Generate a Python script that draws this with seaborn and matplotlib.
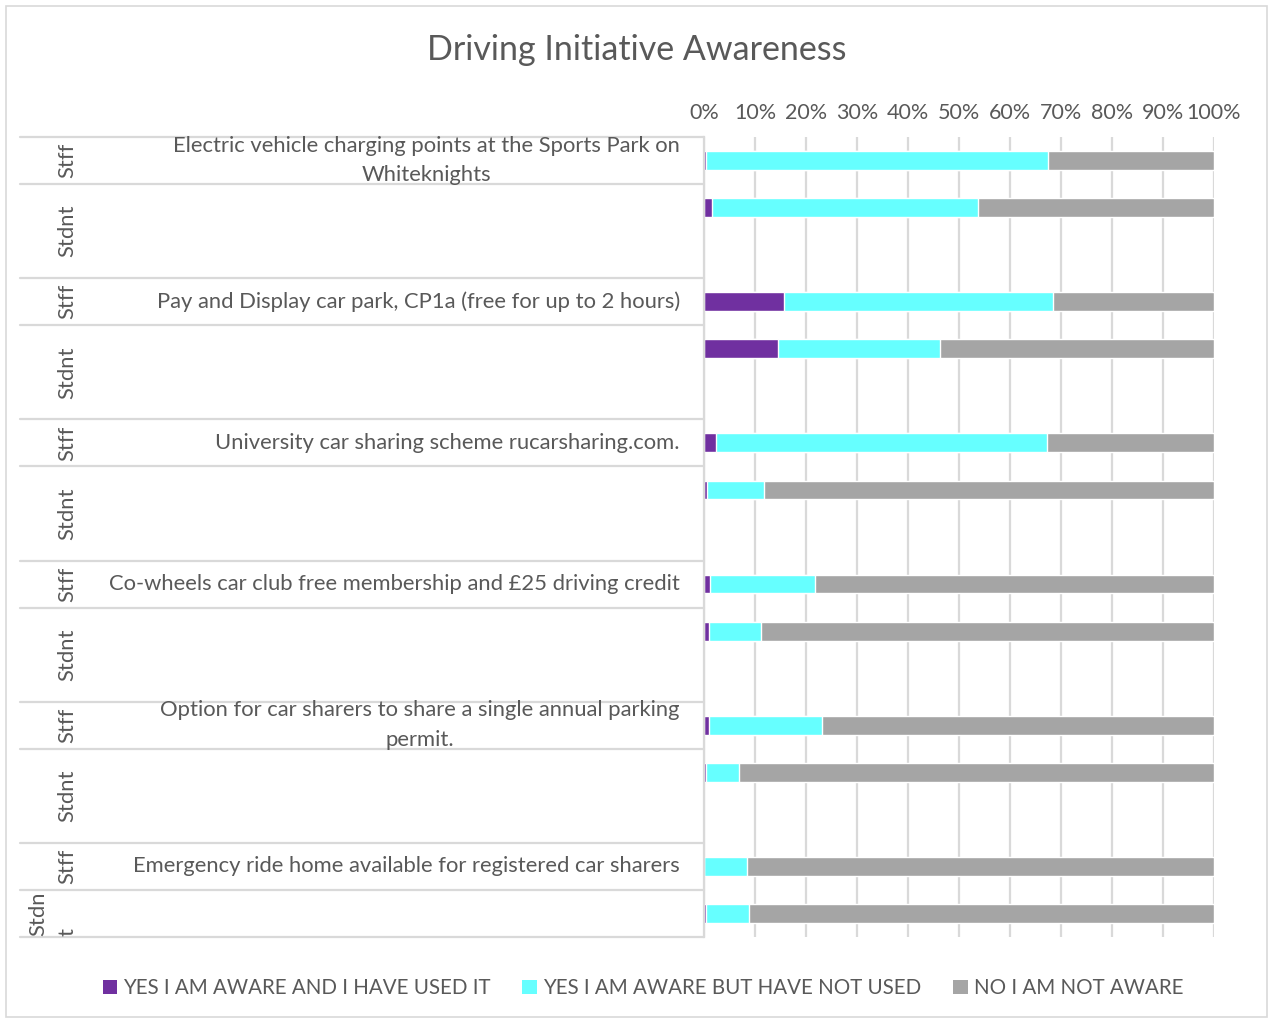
import matplotlib
matplotlib.use("Agg")
import matplotlib.pyplot as plt
from matplotlib.patches import Rectangle, Patch
import seaborn as sns
import pandas as pd

# Initiatives (outer category) and respondent groups (inner category)
initiatives = [
    "Electric vehicle charging points at the Sports Park on\nWhiteknights",
    "Pay and Display car park, CP1a (free for up to 2 hours)",
    "University car sharing scheme rucarsharing.com.",
    "Co-wheels car club free membership and £25 driving credit",
    "Option for car sharers to share a single annual parking\npermit.",
    "Emergency ride home available for registered car sharers",
]
groups = ["Stff", "Stdnt"]

# Percentages, rows ordered initiative by initiative: Stff then Stdnt
used = [0.3, 1.5, 15.6, 14.5, 2.3, 0.6, 1.1, 1.0, 0.9, 0.35, 0.0, 0.3]
aware_not_used = [67.1, 52.3, 52.9, 31.7, 64.9, 11.2, 20.6, 10.2, 22.3, 6.55, 8.5, 8.6]
not_aware = [32.6, 46.2, 31.5, 53.8, 32.8, 88.2, 78.3, 88.8, 76.8, 93.1, 91.5, 91.1]

series_names = ["YES I AM AWARE AND I HAVE USED IT",
                "YES I AM AWARE BUT HAVE NOT USED",
                "NO I AM NOT AWARE"]
series_colors = ["#7030A0", "#66FFFF", "#A5A5A5"]
text_color = "#595959"
line_color = "#D9D9D9"

FONT = ["Lato", "DejaVu Sans"]
LABEL_SIZE = 15.8

rows = []
k = 0
for i, name in enumerate(initiatives):
    for g in groups:
        rows.append({"row": f"{i}|{g}", "initiative": name, "group": g,
                     "used": used[k], "aware": aware_not_used[k], "not": not_aware[k]})
        k += 1
df = pd.DataFrame(rows)
df["c1"] = df["used"]
df["c2"] = df["used"] + df["aware"]
df["c3"] = df["used"] + df["aware"] + df["not"]

# Category order, with an empty slot after each Stdnt row except the last
order = []
for i in range(len(initiatives)):
    order += [f"{i}|Stff", f"{i}|Stdnt"]
    if i < len(initiatives) - 1:
        order.append(" " * (i + 1))

sns.set_theme(style="white")
plt.rcParams["font.family"] = FONT

W, H = 1273, 1023
fig = plt.figure(figsize=(W / 100, H / 100), dpi=100)
fig.patches.append(Rectangle((6 / W, 6 / H), 1 - 12 / W, 1 - 12 / H,
                             transform=fig.transFigure, fill=False,
                             edgecolor=line_color, lw=1.2))

x0, x1, y0, y1 = 704, 1214, 137, 937
ax = fig.add_axes([x0 / W, 1 - y1 / H, (x1 - x0) / W, (y1 - y0) / H])

for col, color in zip(["c3", "c2", "c1"], series_colors[::-1]):
    sns.barplot(data=df, x=col, y="row", order=order, orient="h",
                color=color, saturation=1, width=0.4, errorbar=None,
                ax=ax, zorder=2)

ax.set_xlim(0, 100)
ax.set_ylim(len(order) - 0.5, -0.5)
ax.set_xlabel("")
ax.set_ylabel("")
ax.set_yticks([])
ax.xaxis.tick_top()
ticks = list(range(0, 101, 10))
ax.set_xticks(ticks)
ax.set_xticklabels([f"{t}%" for t in ticks], color=text_color, fontsize=15.5)
ax.tick_params(axis="x", length=0, pad=10)
ax.grid(axis="x", color=line_color, lw=1.6, zorder=0)
ax.set_axisbelow(True)
for s in ["top", "right", "bottom"]:
    ax.spines[s].set_visible(False)
ax.spines["left"].set_color(line_color)
ax.spines["left"].set_linewidth(1.6)

# Two-level category labels on the left
tr = ax.get_yaxis_transform()
px = lambda p: (p - x0) / (x1 - x0)
pos = {name: idx for idx, name in enumerate(order)}
bounds = [-0.5]
for i in range(len(initiatives)):
    s, d = pos[f"{i}|Stff"], pos[f"{i}|Stdnt"]
    bounds += [s + 0.5, (d + 1.5) if i < len(initiatives) - 1 else d + 0.5]
for b in bounds:
    ax.plot([px(20), 0], [b, b], transform=tr, color=line_color, lw=1.6,
            clip_on=False, zorder=1)

for i, name in enumerate(initiatives):
    s, d = pos[f"{i}|Stff"], pos[f"{i}|Stdnt"]
    ax.text(px(680), s, name, transform=tr, ha="right", va="center",
            multialignment="center", color=text_color, fontsize=LABEL_SIZE,
            linespacing=1.6)
    ax.text(px(67), s, "Stff", transform=tr, rotation=90, ha="center",
            va="center", color=text_color, fontsize=LABEL_SIZE)
    if i < len(initiatives) - 1:
        ax.text(px(67), d + 0.5, "Stdnt", transform=tr, rotation=90,
                ha="center", va="center", color=text_color, fontsize=LABEL_SIZE)
    else:
        ax.text(px(53), d, "Stdn\nt", transform=tr, rotation=90,
                ha="center", va="center", multialignment="left",
                color=text_color, fontsize=LABEL_SIZE, linespacing=1.55)

fig.text(0.5, 1 - 50 / H, "Driving Initiative Awareness", ha="center",
         va="center", color=text_color, fontsize=24.5)

handles = [Patch(facecolor=c, edgecolor="none") for c in series_colors]
fig.legend(handles, series_names, loc="center", bbox_to_anchor=(0.505, 1 - 988 / H),
           ncol=3, frameon=False, fontsize=14.8, handlelength=0.7,
           handleheight=0.7, handletextpad=0.3, columnspacing=1.55,
           labelcolor=text_color)

fig.savefig("out.png", dpi=100)
